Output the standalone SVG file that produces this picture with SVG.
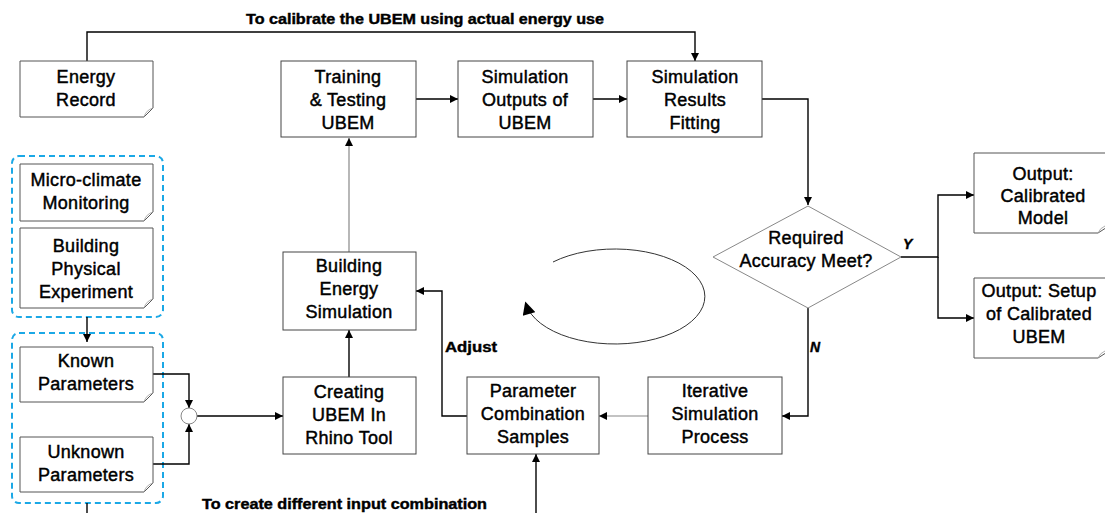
<svg xmlns="http://www.w3.org/2000/svg" width="1105" height="513" viewBox="0 0 1105 513">
<defs>
<marker id="ah" viewBox="0 0 10 10" refX="10" refY="5" markerWidth="9" markerHeight="8" markerUnits="userSpaceOnUse" orient="auto"><path d="M0,0 L10,5 L0,10 Z" fill="#000"/></marker>
<marker id="ahc" viewBox="0 0 10 10" refX="8" refY="5" markerWidth="14" markerHeight="13" markerUnits="userSpaceOnUse" orient="auto"><path d="M0,0 L10,5 L0,10 Z" fill="#000"/></marker>
<style>
.box{fill:#fff;stroke:#444;stroke-width:1}
.doc{fill:#fff;stroke:#555;stroke-width:1}
.fold{fill:none;stroke:#999;stroke-width:0.8}
.grp{fill:none;stroke:#1ba8e6;stroke-width:2;stroke-dasharray:6,4}
.t{font-family:"Liberation Sans",Arial,sans-serif;font-size:18px;fill:#000;stroke:#000;stroke-width:0.45;text-anchor:middle;letter-spacing:0.3px}
.lb{font-family:"Liberation Sans",Arial,sans-serif;font-size:14px;font-weight:bold;fill:#000;stroke:#000;stroke-width:0.4}
.c{fill:none;stroke:#000;stroke-width:1.4}
.g{fill:none;stroke:#888;stroke-width:1.2}
</style>
</defs>
<g id="groups">
<rect class="grp" x="12" y="156" width="151" height="161" rx="7"/>
<rect class="grp" x="12" y="333" width="151" height="170" rx="7"/>
</g>
<g id="connectors">
<path class="c" d="M87,61 V32 H695 V61" marker-end="url(#ah)"/>
<path class="c" d="M416,99 H458" marker-end="url(#ah)"/>
<path class="c" d="M593,99 H627" marker-end="url(#ah)"/>
<path class="c" d="M762,99 H808 V205" marker-end="url(#ah)"/>
<path class="c" d="M901,257 H938 V195 H974" marker-end="url(#ah)"/>
<path class="c" d="M938,257 V318 H974" marker-end="url(#ah)"/>
<path class="c" d="M808,308 V416 H782" marker-end="url(#ah)"/>
<path class="g" d="M648,416 H599" marker-end="url(#ah)"/>
<path class="c" d="M467,416 H442 V291 H416" marker-end="url(#ah)"/>
<path class="g" d="M349,252 V138" marker-end="url(#ah)"/>
<path class="c" d="M349,377 V330" marker-end="url(#ah)"/>
<path class="c" d="M197,416 H283" marker-end="url(#ah)"/>
<path class="c" d="M153,374 H189 V408" marker-end="url(#ah)"/>
<path class="c" d="M153,464 H189 V424" marker-end="url(#ah)"/>
<path class="c" d="M87,317 V342" marker-end="url(#ah)"/>
<path class="c" d="M87,503 V513"/>
<path class="c" d="M536,513 V454" marker-end="url(#ah)"/>
<path fill="none" stroke="#333" stroke-width="1" d="M553,262 A90,47.5 0 1 1 526,304" marker-end="url(#ahc)"/>
<circle cx="189" cy="416" r="8" fill="#fff" stroke="#888" stroke-width="1"/>
<text class="lb" x="425" y="24" text-anchor="middle" textLength="358" lengthAdjust="spacingAndGlyphs">To calibrate the UBEM using actual energy use</text>
<text class="lb" x="202" y="509" textLength="285" lengthAdjust="spacingAndGlyphs">To create different input combination</text>
<text class="lb" x="445" y="352" textLength="52" lengthAdjust="spacingAndGlyphs">Adjust</text>
<text class="lb" x="903" y="249" font-style="italic" font-size="13">Y</text>
<text class="lb" x="810" y="352" font-style="italic" font-size="13">N</text>
</g>
<g id="energy-record">
<path class="doc" d="M20,61 H153 V108 L144,117 H20 Z"/><path class="fold" d="M153,108 Q146,110 144,117"/>
<text class="t" x="86" y="83">Energy</text><text class="t" x="86" y="106">Record</text>
</g>
<g id="training">
<rect class="box" x="281" y="61" width="135" height="76"/>
<text class="t" x="348" y="83">Training</text><text class="t" x="348" y="106">&amp; Testing</text><text class="t" x="348" y="129">UBEM</text>
</g>
<g id="sim-outputs">
<rect class="box" x="458" y="61" width="135" height="76"/>
<text class="t" x="525" y="83">Simulation</text><text class="t" x="525" y="106">Outputs of</text><text class="t" x="525" y="129">UBEM</text>
</g>
<g id="sim-results">
<rect class="box" x="627" y="61" width="135" height="76"/>
<text class="t" x="695" y="83">Simulation</text><text class="t" x="695" y="106">Results</text><text class="t" x="695" y="129">Fitting</text>
</g>
<g id="micro-climate">
<path class="doc" d="M20,164 H153 V212 L144,221 H20 Z"/><path class="fold" d="M153,212 Q146,214 144,221"/>
<text class="t" x="86" y="186">Micro-climate</text><text class="t" x="86" y="209">Monitoring</text>
</g>
<g id="physical-experiment">
<path class="doc" d="M20,228 H153 V299 L144,308 H20 Z"/><path class="fold" d="M153,299 Q146,301 144,308"/>
<text class="t" x="86" y="252">Building</text><text class="t" x="86" y="275">Physical</text><text class="t" x="86" y="298">Experiment</text>
</g>
<g id="known">
<path class="doc" d="M20,347 H153 V393 L144,402 H20 Z"/><path class="fold" d="M153,393 Q146,395 144,402"/>
<text class="t" x="86" y="367">Known</text><text class="t" x="86" y="390">Parameters</text>
</g>
<g id="unknown">
<path class="doc" d="M20,437 H153 V483 L144,492 H20 Z"/><path class="fold" d="M153,483 Q146,485 144,492"/>
<text class="t" x="86" y="458">Unknown</text><text class="t" x="86" y="481">Parameters</text>
</g>
<g id="creating">
<rect class="box" x="283" y="377" width="133" height="77"/>
<text class="t" x="349" y="398">Creating</text><text class="t" x="349" y="421">UBEM In</text><text class="t" x="349" y="444">Rhino Tool</text>
</g>
<g id="bes">
<rect class="box" x="283" y="252" width="133" height="78"/>
<text class="t" x="349" y="272">Building</text><text class="t" x="349" y="295">Energy</text><text class="t" x="349" y="318">Simulation</text>
</g>
<g id="param">
<rect class="box" x="467" y="377" width="132" height="77"/>
<text class="t" x="533" y="397">Parameter</text><text class="t" x="533" y="420">Combination</text><text class="t" x="533" y="443">Samples</text>
</g>
<g id="iterative">
<rect class="box" x="648" y="377" width="134" height="77"/>
<text class="t" x="715" y="397">Iterative</text><text class="t" x="715" y="420">Simulation</text><text class="t" x="715" y="443">Process</text>
</g>
<g id="decision">
<path d="M808,206 L901,257 L808,308 L713,257 Z" fill="#fff" stroke="#888" stroke-width="1"/>
<text class="t" x="806" y="244">Required</text><text class="t" x="806" y="267">Accuracy Meet?</text>
</g>
<g id="output-model">
<path class="doc" d="M974,153 H1112 V224 L1098,233 H974 Z"/><path class="fold" d="M1105,226 Q1100,228 1098,233"/>
<text class="t" x="1043" y="180">Output:</text><text class="t" x="1043" y="202">Calibrated</text><text class="t" x="1043" y="224">Model</text>
</g>
<g id="output-setup">
<path class="doc" d="M974,278 H1112 V349 L1098,358 H974 Z"/><path class="fold" d="M1105,351 Q1100,353 1098,358"/>
<text class="t" x="1039" y="297">Output: Setup</text><text class="t" x="1039" y="320">of Calibrated</text><text class="t" x="1039" y="343">UBEM</text>
</g>
</svg>
